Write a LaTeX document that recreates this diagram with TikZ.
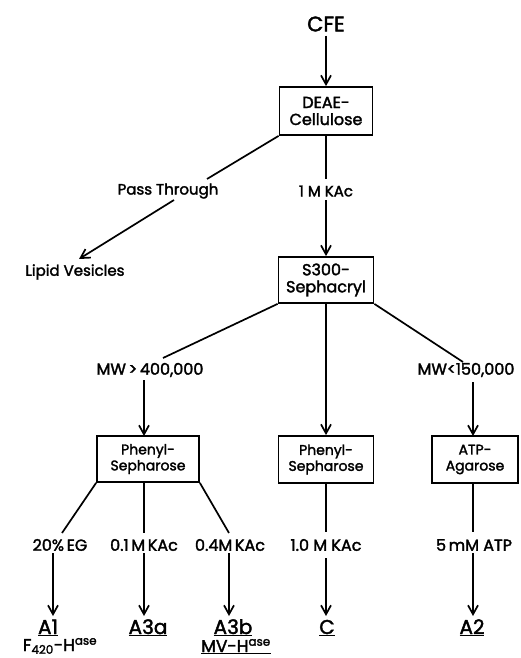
\documentclass[tikz,border=0pt]{standalone}
\usepackage{fontspec}
\setmainfont{Poppins}[UprightFeatures={FakeBold=2}]
\usetikzlibrary{arrows.meta}
\begin{document}
\begin{tikzpicture}[x=1pt,y=-1pt,
  ln/.style={line width=1.7pt},
  arr/.style={line width=1.7pt,-{Straight Barb[length=9pt,width=10pt,line width=1.7pt]}},
  stage/.style={draw,line width=1.8pt,align=center,inner sep=0pt,font=\fontsize{14}{16}\selectfont},
  bigstage/.style={stage,font=\fontsize{16}{17}\selectfont},
  lab/.style={inner sep=0pt,font=\fontsize{15}{17}\selectfont},
  numlab/.style={inner sep=0pt,font=\fontsize{16}{18}\selectfont},
  res/.style={inner sep=0pt,anchor=base,font=\fontsize{20}{22}\selectfont},
  sub/.style={inner sep=0pt,anchor=base,font=\fontsize{17}{19}\selectfont},
]
\useasboundingbox (0,0) rectangle (521,658);
% nodes
\node[inner sep=0pt,font=\fontsize{21}{23}\selectfont] (cfe) at (326,24) {CFE};
\node[bigstage,minimum width=93pt,minimum height=48pt] (deae) at (326,111) {DEAE-\\Cellulose};
\node[lab] (pass) at (168,191) {Pass Through};
\node[lab] (lipid) at (75,272) {Lipid Vesicles};
\node[lab] (kac1) at (326,191) {1 M KAc};
\node[bigstage,minimum width=95pt,minimum height=46pt] (s300) at (326,280) {S300-\\Sephacryl};
\node[numlab] (mw1) at (150,370) {MW\,>\,400,000};
\node[numlab] (mw2) at (466,370) {MW<150,000};
\node[stage,minimum width=102pt,minimum height=46pt] (ph1) at (148,459) {Phenyl-\\Sepharose};
\node[stage,minimum width=95pt,minimum height=47pt] (ph2) at (326,459.5) {Phenyl-\\Sepharose};
\node[stage,minimum width=86pt,minimum height=47pt] (atp) at (475,459.5) {ATP-\\Agarose};
\node[numlab] (eg) at (60,545) {20\%\,EG};
\node[numlab] (k01) at (144,545) {0.1\,M\,KAc};
\node[numlab] (k04) at (230,545) {0.4M\,KAc};
\node[numlab] (k10) at (326,545) {1.0 M KAc};
\node[numlab] (atpl) at (474,545) {5\,mM ATP};
\node[res] (a1) at (48,634) {\underline{A1}};
\node[sub] (f420) at (60,651) {F\textsubscript{420}-H\textsuperscript{ase}};
\node[res] (a3a) at (148,634) {\underline{A3a}};
\node[res] (a3b) at (233,634) {\underline{A3b}};
\node[sub] (mvh) at (236,652) {\underline{MV-H\textsuperscript{ase}}};
\node[res] (c) at (327,634) {\underline{C}};
\node[res] (a2) at (472,634) {\underline{A2}};
% coordinates
\coordinate (passin) at (207,179);
\coordinate (passout) at (174,200);
\coordinate (lipidin) at (79,259);
\coordinate (kacin) at (326,179);
\coordinate (kacout) at (326,200);
\coordinate (mw1in) at (163,358);
\coordinate (mw1out) at (144,380);
\coordinate (ph1in) at (144,436);
\coordinate (mw2in) at (463,362);
\coordinate (mw2out) at (473,382);
\coordinate (atpin) at (473,436);
\coordinate (ph1b) at (144,482);
\coordinate (egin) at (62,533);
\coordinate (egout) at (53,553);
\coordinate (a1in) at (53,616);
\coordinate (k01in) at (144,533);
\coordinate (k01out) at (144,553);
\coordinate (a3ain) at (144,616);
\coordinate (k04in) at (229,533);
\coordinate (k04out) at (229,553);
\coordinate (a3bin) at (229,616);
\coordinate (k10in) at (326,532);
\coordinate (k10out) at (326,558);
\coordinate (cin) at (326,616);
\coordinate (atpb) at (473,483);
\coordinate (atplin) at (473,532);
\coordinate (atplout) at (473,553);
\coordinate (a2in) at (473,616);
% connectors
\draw[arr] (cfe.south) ++(0,4) -- (deae.north);
\draw[ln] (deae.south west) -- (passin);
\draw[arr] (passout) -- (lipidin);
\draw[ln] (deae.south) -- (kacin);
\draw[arr] (kacout) -- (s300.north);
\draw[ln] (s300.south west) -- (mw1in);
\draw[arr] (mw1out) -- (ph1in);
\draw[arr] (s300.south) -- (ph2.north);
\draw[ln] (s300.south east) -- (mw2in);
\draw[arr] (mw2out) -- (atpin);
\draw[ln] (ph1.south west) -- (egin);
\draw[arr] (egout) -- (a1in);
\draw[ln] (ph1b) -- (k01in);
\draw[arr] (k01out) -- (a3ain);
\draw[ln] (ph1.south east) -- (k04in);
\draw[arr] (k04out) -- (a3bin);
\draw[ln] (ph2.south) -- (k10in);
\draw[arr] (k10out) -- (cin);
\draw[ln] (atpb) -- (atplin);
\draw[arr] (atplout) -- (a2in);
\end{tikzpicture}
\end{document}
